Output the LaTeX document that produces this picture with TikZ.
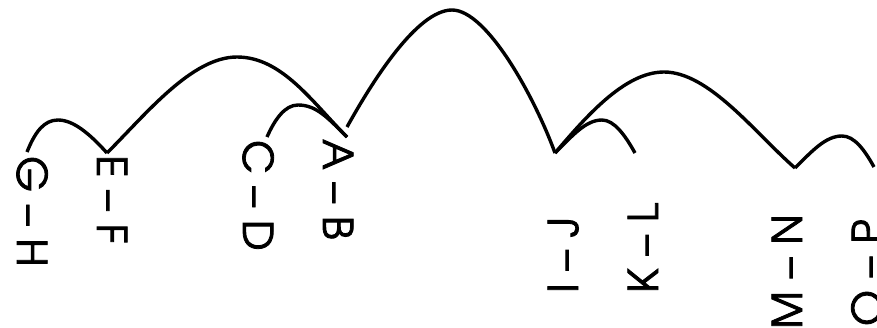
\documentclass[tikz,border=0pt]{standalone}
\usepackage{fontspec}
\newfontfamily\lblfont{texgyreadventor-regular.otf}[FakeBold=2]
\newcommand{\gp}{\hspace{13pt}}
\newcommand{\pair}[2]{#1\gp–\gp#2}
\tikzset{
  arc/.style={line width=3.4pt},
  lbl/.style={inner sep=0pt, anchor=base west, font=\lblfont\fontsize{41}{41}\selectfont},
  lft/.style={lbl, rotate=-90},
  rgt/.style={lbl, rotate=90}
}
\begin{document}
\begin{tikzpicture}[x=1pt,y=-1pt]
\useasboundingbox (0,0) rectangle (877,327);
% labels
\node[lft] (gh) at (17,156) {\pair{G}{H}};
\node[lft] (ef) at (97,155) {\pair{E}{F}};
\node[lft] (cd) at (243,140) {\pair{C}{D}};
\node[lft] (ab) at (323,139) {\pair{A}{B}};
\node[rgt] (ij) at (578,293) {\pair{I}{J}};
\node[rgt] (kl) at (658,293) {\pair{K}{L}};
\node[rgt] (mn) at (802,329) {\pair{M}{N}};
\node[rgt] (op) at (882,326) {\pair{O}{P}};
% arc end points
\coordinate (pGH) at (27,152);
\coordinate (pEF) at (107,153);
\coordinate (pCD) at (267,137);
\coordinate (pAB) at (347,137);
\coordinate (pAB2) at (347,127);
\coordinate (pIJ) at (555,153);
\coordinate (pKL) at (635,153);
\coordinate (pMN) at (795,168);
\coordinate (pOP) at (874,167);
% arc tops
\coordinate (t1) at (58,120);
\coordinate (t2) at (237,57);
\coordinate (t3) at (298,105);
\coordinate (t4) at (452,10);
\coordinate (t5) at (664,72);
\coordinate (t6) at (602,120);
\coordinate (t7) at (842,136);
% arcs
\draw[arc] (pGH) .. controls +(8,-20) and +(-14,0) .. (t1) .. controls +(15,0) and +(-18,-20) .. (pEF);
\draw[arc] (pEF) .. controls +(40,-40) and +(-45,0) .. (t2) .. controls +(45,0) and +(-35,-35) .. (pAB);
\draw[arc] (pCD) .. controls +(8,-18) and +(-13,0) .. (t3) .. controls +(18,0) and +(-20,-20) .. (pAB);
\draw[arc] (pAB2) .. controls +(25,-45) and +(-35,0) .. (t4) .. controls +(35,0) and +(-20,-55) .. (pIJ);
\draw[arc] (pIJ) .. controls +(30,-35) and +(-40,0) .. (t5) .. controls +(45,0) and +(-40,-35) .. (pMN);
\draw[arc] (pIJ) .. controls +(18,-18) and +(-16,0) .. (t6) .. controls +(12,0) and +(-10,-18) .. (pKL);
\draw[arc] (pMN) .. controls +(18,-18) and +(-16,0) .. (t7) .. controls +(12,0) and +(-10,-18) .. (pOP);
\end{tikzpicture}
\end{document}
